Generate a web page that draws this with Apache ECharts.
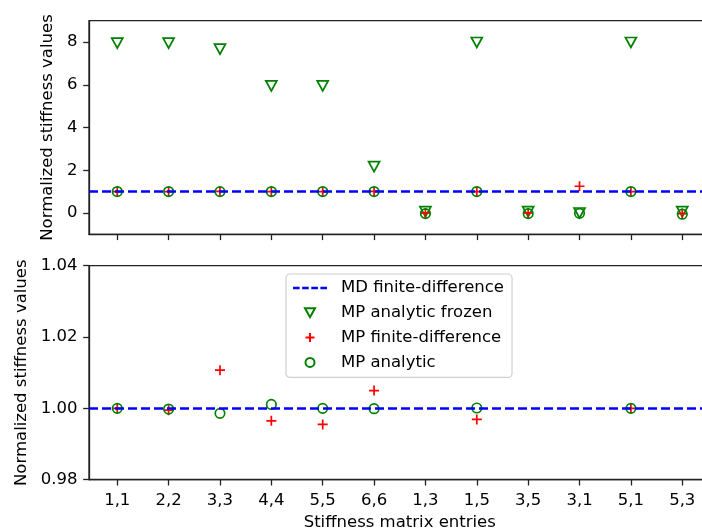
<!DOCTYPE html>
<html>
<head>
<meta charset="utf-8">
<script src="https://cdn.jsdelivr.net/npm/echarts@6/dist/echarts.min.js"></script>
<style>
  html, body { margin: 0; padding: 0; background: #fff; }
  #main { width: 702px; height: 531px; }
</style>
</head>
<body>
<div id="main"></div>
<script>
// stiffness matrix entries (x axis)
const entries = ['1,1', '2,2', '3,3', '4,4', '5,5', '6,6', '1,3', '1,5', '3,5', '3,1', '5,1', '5,3'];

// normalized values
const mpFrozen = [7.95, 7.95, 7.67, 5.95, 5.95, 2.17, 0.06, 7.98, 0.06, 0.0, 7.98, 0.06];
const mpFiniteDiff = [1.0, 0.9995, 1.0107, 0.9965, 0.9955, 1.005, 0.0, 0.9969, 0.0, 1.25, 1.0, -0.03];
const mpAnalytic = [1.0, 0.9998, 0.9986, 1.0011, 1.0, 0.9999, -0.03, 1.0001, -0.03, -0.02, 1.0, -0.06];
const mdLevel = 1; // MD finite-difference reference

const topTicks = [0, 2, 4, 6, 8];
const bottomTicks = [0.98, 1.0, 1.02, 1.04];
const xTicks = entries.map((e, i) => i);

const FONT = 'DejaVu Sans';
const FS = 16.5;
const AXIS_COLOR = '#222';
const GREEN = '#008000';
const RED = '#ff0000';
const BLUE = '#0000ff';
const PLUS = 'path://M0,5 L10,5 M5,0 L5,10';
const TRI_DOWN = 'path://M0,0 L10,0 L5,9 Z';
const DASHES = 'path://M0,0H6.5V2.5H0Z M9,0H15.5V2.5H9Z M18,0H24.5V2.5H18Z M27,0H33.5V2.5H27Z';

const chart = echarts.init(document.getElementById('main'));

function pairs(vals) {
	return vals.map((v, i) => [i, v]);
}

function xAxisFor(gridIndex, showLabels) {
	return {
		type: 'value',
		gridIndex: gridIndex,
		min: -0.55,
		max: 11.55,
		splitLine: { show: false },
		axisLine: { show: true, onZero: false, lineStyle: { color: AXIS_COLOR, width: 1.3 } },
		axisTick: { show: true, inside: false, length: 5.8, customValues: xTicks, lineStyle: { color: AXIS_COLOR, width: 1.3 } },
		axisLabel: {
			show: showLabels,
			customValues: xTicks,
			margin: 13,
			fontFamily: FONT,
			fontSize: FS,
			color: '#000',
			formatter: v => entries[Math.round(v)]
		},
		name: showLabels ? 'Stiffness matrix entries' : '',
		nameLocation: 'middle',
		nameGap: 35,
		nameTextStyle: { fontFamily: FONT, fontSize: FS, color: '#000' }
	};
}

function yAxisFor(gridIndex, min, max, ticks, digits, nameGap) {
	return {
		type: 'value',
		gridIndex: gridIndex,
		min: min,
		max: max,
		splitLine: { show: false },
		axisLine: { show: true, onZero: false, lineStyle: { color: AXIS_COLOR, width: 1.3 } },
		axisTick: { show: true, inside: false, length: 5.8, customValues: ticks, lineStyle: { color: AXIS_COLOR, width: 1.3 } },
		axisLabel: {
			customValues: ticks,
			margin: 11.5,
			fontFamily: FONT,
			fontSize: FS,
			color: '#000',
			formatter: v => v.toFixed(digits)
		},
		name: 'Normalized stiffness values',
		nameLocation: 'middle',
		nameRotate: 90,
		nameGap: nameGap,
		nameTextStyle: { fontFamily: FONT, fontSize: FS, color: '#000' }
	};
}

function seriesFor(idx) {
	return [
		{
			name: 'MD finite-difference',
			type: 'line',
			xAxisIndex: idx,
			yAxisIndex: idx,
			data: [],
			symbol: 'none',
			z: 1,
			lineStyle: { color: BLUE, width: 2.5, type: [9, 4] },
			itemStyle: { color: BLUE },
			markLine: {
				silent: true,
				symbol: ['none', 'none'],
				label: { show: false },
				lineStyle: { color: BLUE, width: 2.5, type: [9, 4] },
				data: [{ yAxis: mdLevel }]
			}
		},
		{
			name: 'MP analytic frozen',
			type: 'scatter',
			xAxisIndex: idx,
			yAxisIndex: idx,
			clip: true,
			z: 2,
			symbol: 'triangle',
			symbolRotate: 180,
			symbolSize: [11, 10],
			itemStyle: { color: 'rgba(0,0,0,0)', borderColor: GREEN, borderWidth: 1.7, opacity: 1 },
			data: pairs(mpFrozen)
		},
		{
			name: 'MP finite-difference',
			type: 'scatter',
			xAxisIndex: idx,
			yAxisIndex: idx,
			clip: true,
			z: 3,
			symbol: PLUS,
			symbolSize: 10,
			itemStyle: { color: 'rgba(0,0,0,0)', borderColor: RED, borderWidth: 1.7, opacity: 1 },
			data: pairs(mpFiniteDiff)
		},
		{
			name: 'MP analytic',
			type: 'scatter',
			xAxisIndex: idx,
			yAxisIndex: idx,
			clip: true,
			z: 4,
			symbol: 'circle',
			symbolSize: 9.5,
			itemStyle: { color: 'rgba(0,0,0,0)', borderColor: GREEN, borderWidth: 1.7, opacity: 1 },
			data: pairs(mpAnalytic)
		}
	];
}

const gridBase = {
	left: 89,
	width: 621.5,
	show: true,
	borderColor: AXIS_COLOR,
	borderWidth: 1.3,
	backgroundColor: 'transparent',
	containLabel: false,
	outerBoundsMode: 'none'
};

const option = {
	animation: false,
	backgroundColor: '#fff',
	grid: [
		Object.assign({}, gridBase, { top: 20.7, height: 213.6 }),
		Object.assign({}, gridBase, { top: 265.7, height: 214 })
	],
	xAxis: [xAxisFor(0, false), xAxisFor(1, true)],
	yAxis: [
		yAxisFor(0, -1, 9, topTicks, 0, 26),
		yAxisFor(1, 0.98, 1.04, bottomTicks, 2, 53.5)
	],
	legend: {
		orient: 'vertical',
		left: 286,
		top: 274,
		padding: [4, 8, 5, 7],
		itemGap: 4.8,
		itemWidth: 34,
		itemHeight: 9,
		backgroundColor: 'rgba(255,255,255,0.8)',
		borderColor: '#d0d0d0',
		borderWidth: 1.2,
		borderRadius: 4,
		textStyle: { fontFamily: FONT, fontSize: FS, color: '#000', lineHeight: 20, padding: [0, 0, 0, 9] },
		data: [
			{ name: 'MD finite-difference', icon: DASHES, itemStyle: { color: BLUE, borderWidth: 0 } },
			{ name: 'MP analytic frozen', icon: TRI_DOWN },
			{ name: 'MP finite-difference', icon: PLUS },
			{ name: 'MP analytic', icon: 'circle' }
		]
	},
	series: seriesFor(0).concat(seriesFor(1))
};

chart.setOption(option);
</script>
</body>
</html>
